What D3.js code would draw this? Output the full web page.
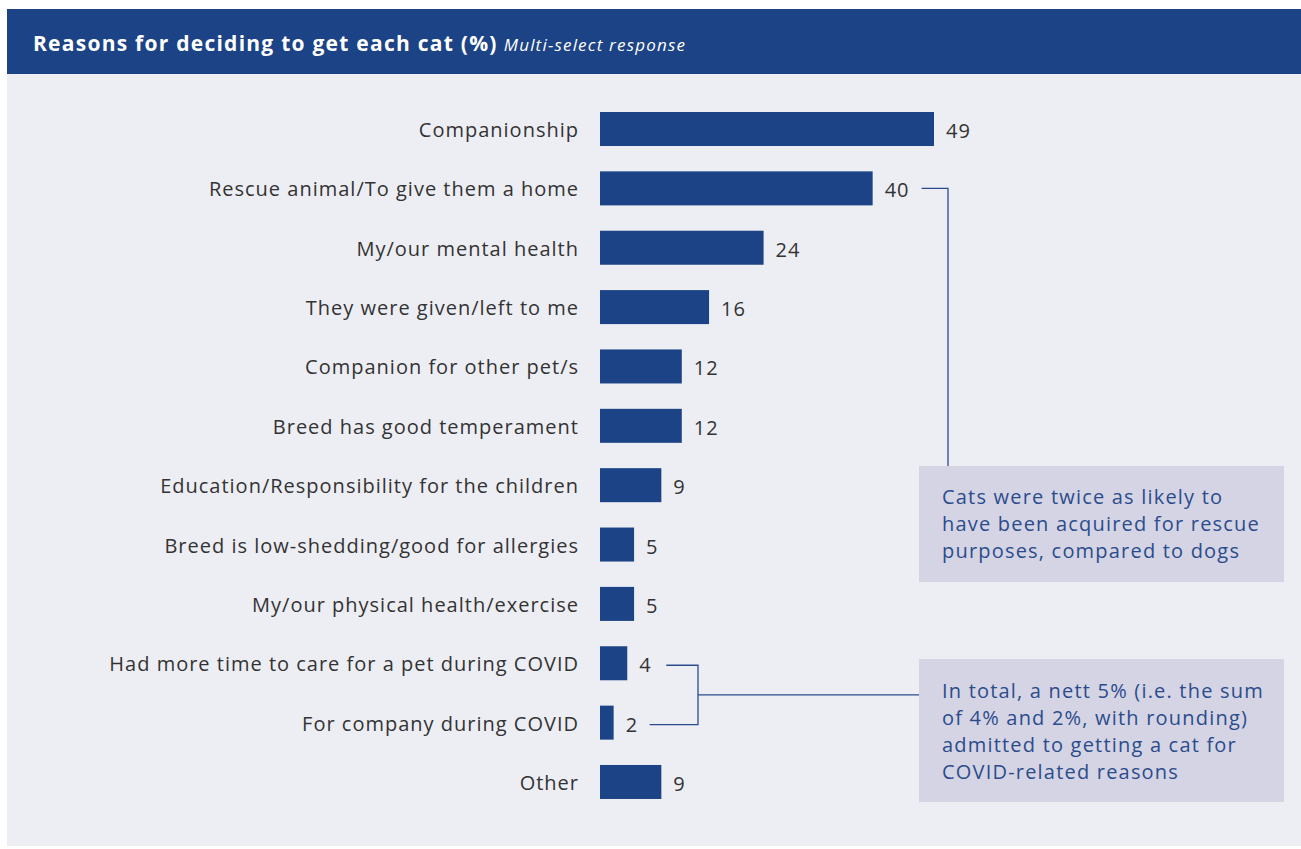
<!DOCTYPE html>
<html><head><meta charset="utf-8">
<script src="https://cdn.jsdelivr.net/npm/d3@7"></script>
<style>html,body{margin:0;padding:0;background:#fff;}</style>
</head><body>
<svg id="chart" width="1301" height="849"></svg>
<script>
const categories = ["Companionship","Rescue animal/To give them a home","My/our mental health","They were given/left to me","Companion for other pet/s","Breed has good temperament","Education/Responsibility for the children","Breed is low-shedding/good for allergies","My/our physical health/exercise","Had more time to care for a pet during COVID","For company during COVID","Other"];
const values = [49,40,24,16,12,12,9,5,5,4,2,9];
const titleText = "Reasons for deciding to get each cat (%)";
const subtitleText = "Multi-select response";
const note1 = ["Cats were twice as likely to","have been acquired for rescue","purposes, compared to dogs"];
const note2 = ["In total, a nett 5% (i.e. the sum","of 4% and 2%, with rounding)","admitted to getting a cat for","COVID-related reasons"];

const font = "'Open Sans', 'DejaVu Sans', sans-serif";
const barColor = "#1c4385";
const svg = d3.select("#chart");

svg.append("rect").attr("x",7).attr("y",9).attr("width",1294).attr("height",837).attr("fill","#edeef4");
svg.append("rect").attr("x",7).attr("y",9).attr("width",1294).attr("height",65).attr("fill","#1c4385");
const t = svg.append("text").attr("x",33).attr("y",51).attr("font-family",font).attr("fill","#fff");
t.append("tspan").attr("font-size",21).attr("font-weight",700).attr("letter-spacing",1.25).text(titleText);
t.append("tspan").attr("font-size",17).attr("font-style","italic").attr("letter-spacing",1.2).attr("dx",6).text(subtitleText);

const x = d3.scaleLinear().domain([0,49]).range([600,934]);
const y = d3.scaleBand().domain(categories).range([99.3,811.7]).paddingInner(0.427).paddingOuter(0.214);

const g = svg.append("g");
g.selectAll("rect.bar").data(values).join("rect").attr("class","bar")
  .attr("x",x(0)).attr("y",(d,i)=>y(categories[i]))
  .attr("width",d=>x(d)-x(0)).attr("height",y.bandwidth()).attr("fill",barColor);

g.selectAll("text.cat").data(categories).join("text").attr("class","cat")
  .attr("x",579).attr("y",d=>y(d)+y.bandwidth()/2+1).attr("dy","0.35em")
  .attr("text-anchor","end").attr("font-family",font).attr("font-size",20).attr("letter-spacing",1).attr("fill","#333")
  .text(d=>d);

g.selectAll("text.val").data(values).join("text").attr("class","val")
  .attr("x",d=>x(d)+12).attr("y",(d,i)=>y(categories[i])+y.bandwidth()/2+2).attr("dy","0.35em")
  .attr("font-family",font).attr("font-size",20).attr("letter-spacing",1).attr("fill","#333")
  .text(d=>d);

const lc = "#2b4c8c";
// annotation 1
const yR = y(categories[1])+y.bandwidth()/2;
svg.append("path").attr("d",`M${x(40)+49},${yR}H948V466`).attr("fill","none").attr("stroke",lc).attr("stroke-width",1.3);
svg.append("rect").attr("x",919).attr("y",466).attr("width",365).attr("height",116).attr("fill","#d5d4e4");
svg.append("text").attr("font-family",font).attr("font-size",20).attr("letter-spacing",1.2).attr("fill",lc)
  .selectAll("tspan").data(note1).join("tspan").attr("x",942).attr("y",(d,i)=>504+i*27).text(d=>d);

// annotation 2
const y4 = y(categories[9])+y.bandwidth()/2+2, y2 = y(categories[10])+y.bandwidth()/2+2;
svg.append("path").attr("d",`M${x(4)+39},${y4}H698V${y2}H${x(2)+36}`).attr("fill","none").attr("stroke",lc).attr("stroke-width",1.3);
svg.append("path").attr("d",`M698,${(y4+y2)/2}H919`).attr("fill","none").attr("stroke",lc).attr("stroke-width",1.3);
svg.append("rect").attr("x",919).attr("y",659).attr("width",365).attr("height",143).attr("fill","#d5d4e4");
svg.append("text").attr("font-family",font).attr("font-size",20).attr("letter-spacing",1.2).attr("fill",lc)
  .selectAll("tspan").data(note2).join("tspan").attr("x",942).attr("y",(d,i)=>698+i*27).text(d=>d);
</script>
</body></html>
